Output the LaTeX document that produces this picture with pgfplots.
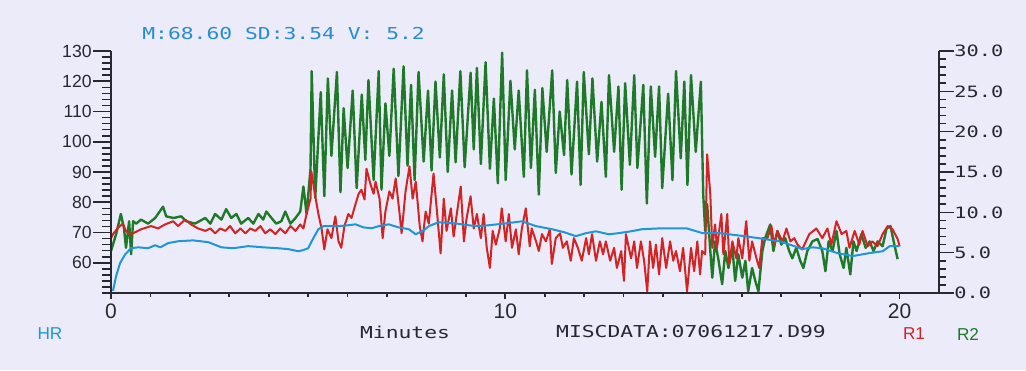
\documentclass[border=0pt]{standalone}
\usepackage{fontspec}
\setmainfont{Liberation Sans}
\newfontfamily\monof[FakeStretch=1.3]{DejaVu Sans Mono}
\usepackage{pgfplots}
\pgfplotsset{compat=1.18}
\definecolor{bgc}{RGB}{236,235,250}
\definecolor{axiscol}{RGB}{40,40,48}
\definecolor{hrblue}{RGB}{30,150,215}
\definecolor{titleblue}{RGB}{40,140,205}
\definecolor{r1red}{RGB}{212,35,35}
\definecolor{r2green}{RGB}{30,122,40}
\pgfplotsset{base/.style={at={(55.5pt,38.5pt)}, anchor=south west,
  width=414pt, height=121pt, scale only axis, xmin=0, xmax=21, clip=false,
  axis line style={axiscol, line width=1pt, -},
  tick style={axiscol, line width=0.8pt}, tick align=outside,
  /pgf/number format/assume math mode=true}}
\begin{document}
\begin{tikzpicture}
\fill[bgc] (0,0) rectangle (513pt,185pt);
\useasboundingbox (0,0) rectangle (513pt,185pt);
% R1 / R2 on the right axis
\begin{axis}[base, ymin=0, ymax=30,
  axis x line=none, axis y line*=right,
  ytick={0,5,...,30}, minor ytick={0,1,...,30},
  major tick length=7.5pt, minor tick length=3.5pt,
  yticklabel style={font=\monof\fontsize{7.8}{9}\selectfont, text=axiscol, inner sep=0pt,
    /pgf/number format/fixed, /pgf/number format/fixed zerofill, /pgf/number format/precision=1}]
\addplot[r2green, line width=1.2pt, line join=round] coordinates {
(0,5.2)(0.13,7.3)(0.25,9.8)(0.33,8.0)(0.38,5.6)(0.46,8.9)(0.51,4.8)(0.56,8.9)(0.64,8.6)(0.76,9.1)(0.94,8.6)(1.12,9.3)(1.32,10.7)(1.40,9.5)(1.58,9.3)(1.78,9.5)(1.91,8.9)(2.13,8.6)(2.39,9.3)(2.52,8.6)(2.64,9.8)(2.80,9.1)(2.92,10.4)(3.05,9.3)(3.18,9.8)(3.30,8.6)(3.48,9.3)(3.61,8.6)(3.74,9.8)(3.86,9.1)(3.94,10.1)(4.07,9.3)(4.19,8.6)(4.32,8.9)(4.42,10.1)(4.55,8.6)(4.68,9.3)(4.80,10.1)(4.88,13.2)(4.96,9.8)(5.06,15.4)
(5.09,27.5)(5.18,11.8)(5.32,24.9)(5.41,12.0)(5.50,26.6)(5.59,17.0)(5.73,27.4)(5.82,12.5)(5.90,22.9)(6.00,15.5)(6.13,25.1)(6.23,13.0)(6.36,24.6)(6.45,16.5)(6.53,26.4)(6.66,14.0)(6.79,27.5)(6.86,12.8)(6.96,23.5)(7.06,17.0)(7.17,27.8)(7.29,14.5)(7.42,28.1)(7.52,15.8)(7.61,25.8)(7.70,14.0)(7.80,27.4)(7.93,16.3)(8.04,25.1)(8.13,15.2)(8.23,26.2)(8.34,16.8)(8.44,27.1)(8.54,15.0)(8.65,25.1)(8.74,16.2)(8.86,27.5)(8.97,15.6)(9.12,27.3)(9.20,17.8)(9.28,27.9)(9.38,16.0)(9.50,28.6)(9.61,15.4)(9.71,24.1)(9.81,13.6)(9.92,29.8)(10.01,14.0)(10.13,26.3)(10.24,17.8)(10.34,25.1)(10.47,14.4)(10.55,27.6)(10.65,15.5)(10.75,25.2)(10.85,12.2)(10.94,25.4)(11.05,17.5)(11.19,27.6)(11.28,14.9)(11.38,22.5)(11.49,17.1)(11.57,26.4)(11.68,14.7)(11.82,26.2)(11.91,13.4)(11.99,27.4)(12.12,17.2)(12.21,26.6)(12.33,16.3)(12.44,23.7)(12.55,14.4)(12.63,27.0)(12.76,17.5)(12.87,25.6)(12.95,12.8)(13.04,26.0)(13.16,15.9)(13.27,27.0)(13.35,15.5)(13.50,25.8)(13.59,11.1)(13.69,25.6)(13.80,16.9)(13.90,25.6)(13.98,13.0)(14.13,24.7)(14.24,14.0)(14.33,27.5)(14.45,16.7)(14.54,26.2)(14.62,13.4)(14.71,27.0)(14.83,17.5)(14.96,26.2)
(14.99,19.1)(15.02,12.2)(15.07,7.7)(15.12,11.0)(15.20,5.2)(15.25,1.9)(15.32,6.4)(15.40,4.3)(15.50,1.1)(15.58,5.2)(15.66,3.1)(15.76,5.6)(15.83,1.5)(15.91,4.8)(16.01,1.9)(16.09,4.0)(16.16,0.2)(16.26,3.1)(16.34,1.5)(16.42,0.2)(16.52,5.2)(16.59,6.8)(16.72,8.5)(16.80,5.2)(16.90,7.7)(17.00,6.0)(17.10,6.8)(17.20,5.2)(17.28,4.3)(17.38,5.6)(17.48,4.0)(17.56,3.1)(17.66,5.2)(17.79,6.4)(17.92,6.7)(18.04,5.2)(18.12,2.7)(18.20,6.4)(18.30,5.2)(18.40,7.7)(18.48,4.8)(18.58,3.1)(18.65,5.6)(18.75,2.3)(18.83,6.4)(18.91,5.2)(19.03,7.3)(19.14,5.6)(19.24,6.4)(19.34,5.2)(19.44,6.4)(19.57,5.8)(19.67,8.0)(19.77,8.3)(19.85,6.4)(19.95,4.2)
};
\addplot[r1red, line width=1pt, line join=round] coordinates {
(0,6.8)(0.05,7.3)(0.18,8.1)(0.30,8.6)(0.38,7.7)(0.48,7.3)(0.56,7.4)(0.76,7.9)(1.02,8.3)(1.19,8.0)(1.37,8.5)(1.58,8.9)(1.70,8.3)(1.88,9.1)(2.03,8.5)(2.21,8.0)(2.39,7.7)(2.52,8.0)(2.64,7.4)(2.77,8.0)(2.90,7.7)(3.02,8.3)(3.15,7.4)(3.28,8.0)(3.41,7.4)(3.53,8.0)(3.66,7.7)(3.79,8.3)(3.91,7.4)(4.04,7.9)(4.17,7.3)(4.29,8.0)(4.42,7.4)(4.55,8.3)(4.68,7.7)(4.80,8.5)(4.88,8.0)(4.96,9.8)(5.06,11.7)(5.08,15.1)(5.18,12.0)(5.26,9.8)(5.34,8.0)(5.41,5.4)(5.49,7.9)(5.59,6.8)(5.69,9.5)(5.77,6.4)(5.84,5.6)(5.92,8.3)(6.02,9.8)(6.10,9.3)(6.20,11.0)(6.28,12.3)(6.35,12.8)(6.43,11.6)(6.48,15.4)(6.58,13.5)(6.66,12.3)(6.71,13.8)(6.81,11.7)(6.89,6.8)(6.96,10.1)(7.06,12.6)(7.14,11.7)(7.22,14.2)(7.32,9.8)(7.37,7.4)(7.47,12.6)(7.57,15.7)(7.65,11.7)(7.73,13.8)(7.83,8.3)(7.90,6.4)(7.98,10.1)(8.06,8.6)(8.18,14.8)(8.26,10.5)(8.36,4.9)(8.44,11.7)(8.51,7.7)(8.62,10.5)(8.69,7.0)(8.77,9.8)(8.87,13.2)(8.95,6.4)(9.02,9.3)(9.12,12.0)(9.20,8.0)(9.28,9.8)(9.38,6.8)(9.45,9.8)(9.53,5.6)(9.61,3.1)(9.68,7.7)(9.76,6.0)(9.86,8.0)(9.91,10.5)(10.01,6.4)(10.09,9.8)(10.17,5.6)(10.27,7.9)(10.34,4.8)(10.42,8.0)(10.52,10.5)(10.62,5.8)(10.67,8.0)(10.78,6.4)(10.85,5.2)(10.93,7.3)(11.03,6.4)(11.13,7.9)(11.18,3.6)(11.28,6.8)(11.39,7.4)(11.46,5.6)(11.56,6.4)(11.66,4.0)(11.74,6.8)(11.84,5.6)(11.94,4.0)(12.05,6.8)(12.12,4.8)(12.20,7.3)(12.30,4.0)(12.40,6.4)(12.48,4.8)(12.55,6.4)(12.66,4.0)(12.76,5.6)(12.83,3.1)(12.94,5.2)(13.01,1.5)(13.06,7.3)(13.19,4.3)(13.27,6.4)(13.34,3.1)(13.44,6.4)(13.52,4.0)(13.60,0.2)(13.67,6.4)(13.75,3.1)(13.82,6.0)(13.90,2.3)(13.98,6.8)(14.08,3.1)(14.18,6.4)(14.26,4.0)(14.33,5.2)(14.43,2.7)(14.51,5.6)(14.61,0.2)(14.71,5.6)(14.79,2.7)(14.87,6.4)(14.94,2.3)(14.99,5.2)(15.07,4.8)(15.12,17.2)(15.20,12.2)(15.25,5.6)(15.32,8.5)(15.37,5.6)(15.48,9.8)(15.53,4.8)(15.63,9.8)(15.68,3.6)(15.76,6.4)(15.86,4.3)(15.91,6.8)(16.01,4.3)(16.11,8.9)(16.19,4.0)(16.26,6.4)(16.37,4.3)(16.44,3.1)(16.52,6.8)(16.65,6.8)(16.75,8.3)(16.82,6.0)(16.90,7.7)(17.03,6.4)(17.13,8.0)(17.23,6.4)(17.33,6.8)(17.41,6.0)(17.53,5.4)(17.71,7.3)(17.89,8.0)(18.04,6.8)(18.17,8.0)(18.27,6.0)(18.40,8.9)(18.53,7.3)(18.65,7.7)(18.73,5.6)(18.86,7.7)(18.98,6.0)(19.06,7.7)(19.19,5.8)(19.31,6.4)(19.44,5.8)(19.57,7.3)(19.70,8.3)(19.82,7.9)(19.95,6.7)(20.00,5.8)
};
\end{axis}
% HR on the left axis
\begin{axis}[base, ymin=50, ymax=130,
  axis x line=none, axis y line*=left,
  ytick={60,70,...,130}, minor ytick={50,52,...,130},
  major tick length=9pt, minor tick length=4.5pt,
  yticklabel style={font=\fontsize{8.8}{10}\selectfont, text=axiscol, inner sep=0.5pt}]
\addplot[hrblue, line width=1pt, line join=round] coordinates {
(0.05,50.7)(0.13,55.6)(0.23,59.9)(0.36,62.8)(0.51,64.8)(0.69,65.1)(0.94,64.8)(1.12,65.8)(1.25,65.1)(1.45,66.5)(1.70,67.1)(2.08,67.4)(2.47,66.8)(2.80,65.1)(3.10,64.8)(3.48,65.5)(3.86,65.1)(4.24,64.8)(4.50,64.5)(4.75,63.8)(4.88,64.2)(5.00,64.8)(5.13,68.1)(5.26,71.1)(5.39,72.1)(5.77,72.1)(6.02,72.4)(6.20,72.7)(6.40,71.7)(6.61,71.4)(6.79,72.1)(7.04,72.7)(7.29,71.7)(7.55,71.1)(7.73,69.4)(7.93,70.7)(8.06,72.1)(8.31,73.4)(8.74,73.0)(9.07,72.4)(9.25,72.1)(9.58,72.4)(10.01,73.0)(10.42,73.7)(10.78,72.1)(11.18,71.1)(11.49,70.1)(11.79,68.8)(12.05,69.8)(12.30,70.4)(12.63,69.4)(12.88,69.8)(13.19,70.4)(13.47,71.1)(13.98,71.4)(14.59,71.4)(15.00,69.8)(15.43,69.8)(15.68,69.4)(16.06,68.8)(16.44,68.1)(16.95,67.1)(17.33,65.5)(17.53,64.5)(17.79,65.1)(18.04,64.8)(18.42,63.2)(18.81,62.2)(19.24,63.2)(19.57,63.8)(19.75,65.5)(20.00,65.5)
};
\end{axis}
% x axis (minutes)
\begin{axis}[base, ymin=0, ymax=1,
  axis x line*=bottom, axis y line=none,
  xtick={0,10,20}, minor xtick={1,2,3,4,5,6,7,8,9,11,12,13,14,15,16,17,18,19},
  major tick length=3pt, minor tick length=2pt,
  xticklabel style={font=\fontsize{10.5}{12}\selectfont, text=axiscol, inner sep=2pt}]
\end{axis}
\node[anchor=west, inner sep=0, text=titleblue, font=\monof\fontsize{8.2}{10}\selectfont] at (71pt,168pt) {M:68.60 SD:3.54 V: 5.2};
\node[inner sep=0, text=hrblue, font=\fontsize{8.6}{10}\selectfont] at (25pt,18pt) {HR};
\node[inner sep=0, text=axiscol, font=\monof\fontsize{8.2}{10}\selectfont] at (202.5pt,19pt) {Minutes};
\node[inner sep=0, text=axiscol, font=\monof\fontsize{8.2}{10}\selectfont] at (345.5pt,19pt) {MISCDATA:07061217.D99};
\node[inner sep=0, text=r1red, font=\fontsize{8.6}{10}\selectfont] at (457pt,18pt) {R1};
\node[inner sep=0, text=r2green, font=\fontsize{8.6}{10}\selectfont] at (484pt,18pt) {R2};
\end{tikzpicture}
\end{document}
